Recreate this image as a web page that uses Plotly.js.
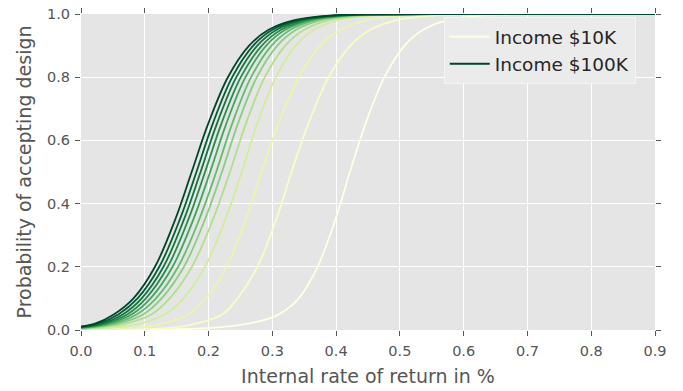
<!DOCTYPE html>
<html>
<head>
<meta charset="utf-8">
<script src="https://cdn.plot.ly/plotly-3.0.1.min.js"></script>
<style>
  html, body { margin: 0; padding: 0; background: #ffffff; }
  #chart { width: 683px; height: 391px; }
</style>
</head>
<body>
<div id="chart"></div>
<script>
// Curve names (only the first and the last appear in the legend)
const curveNames = ['Income $10K', 'Income c02', 'Income c03', 'Income c04', 'Income c05', 'Income c06',
                    'Income c07', 'Income c08', 'Income c09', 'Income c10', 'Income c11', 'Income $100K'];
const curveColors = ['#ffffe5', '#f9fdc5', '#e9f6af', '#d1ec9f', '#b1df90', '#8bce81',
                     '#64bc6f', '#3ea75b', '#288b48', '#10753c', '#005e33', '#004529'];

// Points: internal rate of return (x) and probability (y)
const irr01  = [0, 0.10, 0.15, 0.20, 0.25, 0.28, 0.30, 0.32, 0.3414, 0.371, 0.399, 0.4216, 0.4457, 0.4757, 0.5073, 0.5364, 0.5734, 0.628, 0.691, 0.9];
const prob01 = [0, 0.001, 0.0025, 0.006, 0.016, 0.028, 0.040, 0.062, 0.1, 0.2, 0.35, 0.5, 0.65, 0.8, 0.9, 0.95, 0.98, 0.995, 0.999, 1.0];

const irr02  = [0, 0.1065, 0.1531, 0.180, 0.222, 0.2454, 0.2766, 0.3062, 0.330, 0.356, 0.3882, 0.4223, 0.4536, 0.4935, 0.5523, 0.6201, 0.9];
const prob02 = [0.0003, 0.003, 0.01, 0.02, 0.05, 0.1, 0.2, 0.35, 0.5, 0.65, 0.8, 0.9, 0.95, 0.98, 0.995, 0.999, 1.0];

const irr03  = [0, 0.0537, 0.1015, 0.129, 0.169, 0.1962, 0.2283, 0.2585, 0.283, 0.309, 0.3412, 0.3753, 0.4066, 0.4465, 0.5053, 0.5731, 0.9];
const prob03 = [0.001, 0.003, 0.01, 0.02, 0.05, 0.1, 0.2, 0.35, 0.5, 0.65, 0.8, 0.9, 0.95, 0.98, 0.995, 0.999, 1.0];

const irr04  = [0, 0.0613, 0.092, 0.132, 0.1608, 0.1945, 0.2263, 0.252, 0.2758, 0.3054, 0.3366, 0.3653, 0.4018, 0.4558, 0.5179, 0.9];
const prob04 = [0.002, 0.01, 0.02, 0.05, 0.1, 0.2, 0.35, 0.5, 0.65, 0.8, 0.9, 0.95, 0.98, 0.995, 0.999, 1.0];

const irr05  = [0, 0.036, 0.070, 0.111, 0.139, 0.1739, 0.2069, 0.2335, 0.258, 0.2882, 0.3203, 0.3498, 0.3872, 0.4426, 0.5063, 0.9];
const prob05 = [0.004, 0.01, 0.02, 0.05, 0.1, 0.2, 0.35, 0.5, 0.65, 0.8, 0.9, 0.95, 0.98, 0.995, 0.999, 1.0];

const irr06  = [0, 0.0234, 0.058, 0.098, 0.1265, 0.1614, 0.1944, 0.221, 0.2455, 0.2757, 0.3078, 0.3373, 0.3747, 0.4301, 0.4938, 0.9];
const prob06 = [0.005, 0.01, 0.02, 0.05, 0.1, 0.2, 0.35, 0.5, 0.65, 0.8, 0.9, 0.95, 0.98, 0.995, 0.999, 1.0];

const irr07  = [0, 0.050, 0.088, 0.1175, 0.1524, 0.1854, 0.212, 0.2365, 0.2667, 0.2988, 0.3283, 0.3657, 0.4211, 0.4848, 0.9];
const prob07 = [0.006, 0.02, 0.05, 0.1, 0.2, 0.35, 0.5, 0.65, 0.8, 0.9, 0.95, 0.98, 0.995, 0.999, 1.0];

const irr08  = [0, 0.043, 0.080, 0.1091, 0.1436, 0.1762, 0.2025, 0.2273, 0.2579, 0.2904, 0.3203, 0.3582, 0.4142, 0.4788, 0.9];
const prob08 = [0.007, 0.02, 0.05, 0.1, 0.2, 0.35, 0.5, 0.65, 0.8, 0.9, 0.95, 0.98, 0.995, 0.999, 1.0];

const irr09  = [0, 0.037, 0.073, 0.1018, 0.136, 0.1684, 0.1945, 0.2196, 0.2506, 0.2835, 0.3137, 0.3521, 0.4089, 0.4742, 0.9];
const prob09 = [0.008, 0.02, 0.05, 0.1, 0.2, 0.35, 0.5, 0.65, 0.8, 0.9, 0.95, 0.98, 0.995, 0.999, 1.0];

const irr10  = [0, 0.032, 0.066, 0.0952, 0.1293, 0.1615, 0.1875, 0.2126, 0.2436, 0.2765, 0.3067, 0.3451, 0.4019, 0.4672, 0.9];
const prob10 = [0.009, 0.02, 0.05, 0.1, 0.2, 0.35, 0.5, 0.65, 0.8, 0.9, 0.95, 0.98, 0.995, 0.999, 1.0];

const irr11  = [0, 0.027, 0.059, 0.0887, 0.1228, 0.155, 0.181, 0.2061, 0.2371, 0.27, 0.3002, 0.3386, 0.3954, 0.4607, 0.9];
const prob11 = [0.010, 0.02, 0.05, 0.1, 0.2, 0.35, 0.5, 0.65, 0.8, 0.9, 0.95, 0.98, 0.995, 0.999, 1.0];

const irr12  = [0, 0.022, 0.052, 0.0823, 0.116, 0.1478, 0.1735, 0.1989, 0.2303, 0.2636, 0.2942, 0.3331, 0.3905, 0.4567, 0.9];
const prob12 = [0.011, 0.02, 0.05, 0.1, 0.2, 0.35, 0.5, 0.65, 0.8, 0.9, 0.95, 0.98, 0.995, 0.999, 1.0];

const xTickVals = [0, 0.1, 0.2, 0.3, 0.4, 0.5, 0.6, 0.7, 0.8, 0.9];
const xTickText = ['0.0', '0.1', '0.2', '0.3', '0.4', '0.5', '0.6', '0.7', '0.8', '0.9'];
const yTickVals = [0, 0.2, 0.4, 0.6, 0.8, 1.0];
const yTickText = ['0.0', '0.2', '0.4', '0.6', '0.8', '1.0'];

const xs = [irr01, irr02, irr03, irr04, irr05, irr06, irr07, irr08, irr09, irr10, irr11, irr12];
const ys = [prob01, prob02, prob03, prob04, prob05, prob06, prob07, prob08, prob09, prob10, prob11, prob12];

const traces = xs.map((x, i) => ({
  type: 'scatter',
  mode: 'lines',
  x: x,
  y: ys[i],
  name: curveNames[i],
  showlegend: (i === 0 || i === xs.length - 1),
  line: { color: curveColors[i], width: 1.8, shape: 'spline', smoothing: 1.0 },
  hoverinfo: 'skip'
}));

const textGray = '#555555';
const layout = {
  width: 683,
  height: 391,
  margin: { l: 81, r: 28, t: 14, b: 61 },
  paper_bgcolor: '#ffffff',
  plot_bgcolor: '#E5E5E5',
  font: { family: 'DejaVu Sans, sans-serif', color: textGray },
  showlegend: true,
  xaxis: {
    range: [0, 0.9],
    tickvals: xTickVals,
    ticktext: xTickText,
    showgrid: true, gridcolor: '#ffffff', gridwidth: 1,
    zeroline: false, showline: false,
    ticks: 'outside', ticklen: 5, tickwidth: 1, tickcolor: '#555555',
    mirror: 'ticks',
    ticklabelstandoff: 3,
    tickfont: { size: 14.5, color: textGray },
    title: { text: 'Internal rate of return in %', font: { size: 19, color: textGray }, standoff: 11 },
    automargin: false
  },
  yaxis: {
    range: [0, 1.0],
    tickvals: yTickVals,
    ticktext: yTickText,
    showgrid: true, gridcolor: '#ffffff', gridwidth: 1,
    zeroline: false, showline: false,
    ticks: 'outside', ticklen: 5, tickwidth: 1, tickcolor: '#555555',
    mirror: 'ticks',
    ticklabelstandoff: 2,
    tickfont: { size: 14.5, color: textGray },
    title: { text: 'Probability of accepting design', font: { size: 19, color: textGray }, standoff: 10 },
    automargin: false
  },
  legend: {
    x: 0.632, y: 0.99, xanchor: 'left', yanchor: 'top',
    bgcolor: '#EBEBEB', bordercolor: '#F4F4F4', borderwidth: 1,
    font: { size: 18.5, color: '#262626' },
    itemwidth: 40,
    tracegroupgap: 0
  }
};

Plotly.newPlot('chart', traces, layout, { displayModeBar: false, staticPlot: true });
</script>
</body>
</html>
